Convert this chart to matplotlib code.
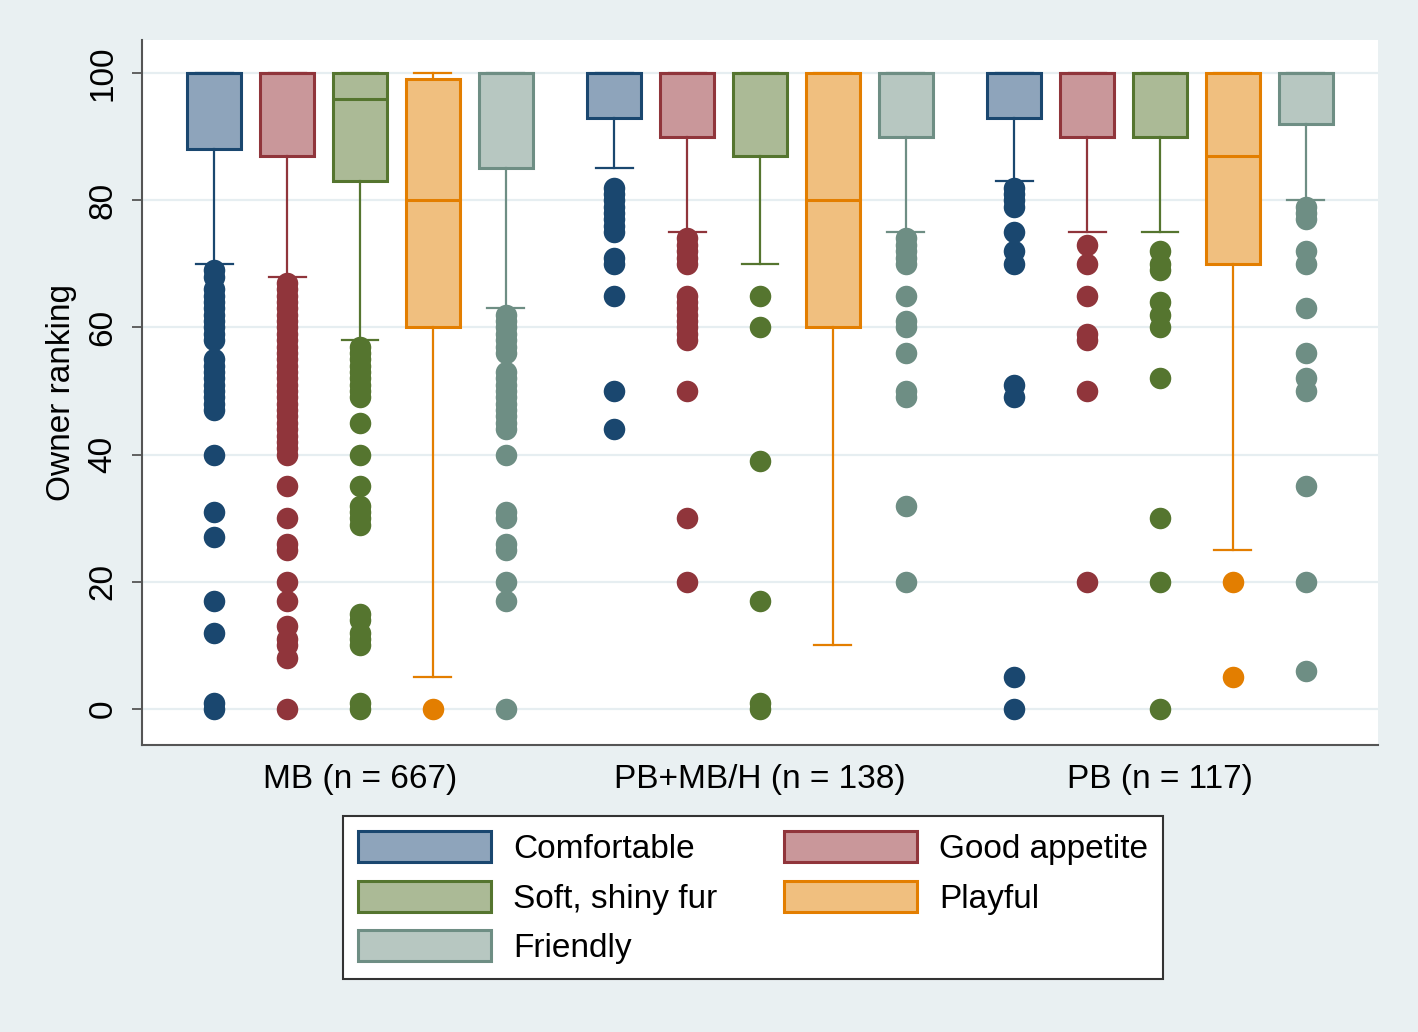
import matplotlib
matplotlib.use("Agg")
import matplotlib.pyplot as plt
from matplotlib.patches import Patch

plt.rcParams['font.family'] = ['Liberation Sans', 'DejaVu Sans']

groups = ["MB (n = 667)", "PB+MB/H (n = 138)", "PB (n = 117)"]
traits = ["Comfortable", "Good appetite", "Soft, shiny fur", "Playful", "Friendly"]

# box statistics, one row per trait, one column per group
q1 = [[88, 93, 93], [87, 90, 90], [83, 87, 90], [60, 60, 70], [85, 90, 92]]
median = [[100, 100, 100], [100, 100, 100], [96, 100, 100], [80, 80, 87], [100, 100, 100]]
q3 = [[100, 100, 100], [100, 100, 100], [100, 100, 100], [99, 100, 100], [100, 100, 100]]
whisker_lo = [[70, 85, 83], [68, 75, 75], [58, 70, 75], [5, 10, 25], [63, 75, 80]]
whisker_hi = [[100, 100, 100], [100, 100, 100], [100, 100, 100], [100, 100, 100], [100, 100, 100]]

outliers_comfortable = [
    [69, 68, 66, 65, 64, 63, 62, 61, 60, 59, 58, 55, 54, 53, 52, 51, 50, 49, 48, 47,
     40, 31, 27, 17, 12, 1, 0],
    [82, 81, 80, 79, 78, 77, 76, 75, 71, 70, 65, 50, 44],
    [82, 81, 80, 79, 75, 72, 70, 51, 49, 5, 0],
]
outliers_appetite = [
    [67, 66, 65, 64, 63, 62, 61, 60, 59, 58, 57, 56, 55, 54, 53, 52, 51, 50, 49, 48,
     47, 46, 45, 44, 43, 42, 41, 40, 35, 30, 26, 25, 20, 17, 13, 11, 10, 8, 0],
    [74, 73, 72, 71, 70, 65, 64, 63, 62, 61, 60, 59, 58, 50, 30, 20],
    [73, 70, 65, 59, 58, 50, 20],
]
outliers_fur = [
    [57, 56, 55, 54, 53, 52, 51, 50, 49, 45, 40, 35, 32, 31, 30, 29, 15, 14, 12, 11,
     10, 1, 0],
    [65, 60, 39, 17, 1, 0],
    [72, 70, 69, 64, 62, 60, 52, 30, 20, 0],
]
outliers_playful = [
    [0],
    [],
    [20, 5],
]
outliers_friendly = [
    [62, 61, 60, 59, 58, 57, 56, 53, 52, 51, 50, 49, 48, 47, 46, 45, 44, 40, 31, 30,
     26, 25, 20, 17, 0],
    [74, 73, 72, 71, 70, 65, 61, 60, 56, 50, 49, 32, 20],
    [79, 78, 77, 72, 70, 63, 56, 52, 50, 35, 20, 6],
]
outliers = [outliers_comfortable, outliers_appetite, outliers_fur,
            outliers_playful, outliers_friendly]

edge_colors = ['#1A476F', '#90353B', '#55752F', '#E37E00', '#6E8E84']
fill_colors = ['#8EA4BB', '#C9979A', '#ABBA96', '#F0BF7F', '#B7C7C1']

fig = plt.figure(figsize=(14.18, 10.32), dpi=100, facecolor='#E9F0F2')
ax = fig.add_axes([0.1001, 0.2781, 0.8717, 0.6831])
ax.set_facecolor('white')

offsets = [-0.364, -0.182, 0.0, 0.182, 0.364]
centers = [1, 2, 3]

for t in range(len(traits)):
    stats = []
    for g in range(len(groups)):
        stats.append(dict(med=median[t][g], q1=q1[t][g], q3=q3[t][g],
                          whislo=whisker_lo[t][g], whishi=whisker_hi[t][g],
                          fliers=outliers[t][g]))
    ec = edge_colors[t]
    ax.bxp(stats, positions=[c + offsets[t] for c in centers],
           widths=0.135, capwidths=0.092, patch_artist=True, manage_ticks=False,
           boxprops=dict(facecolor=fill_colors[t], edgecolor=ec, linewidth=2.2),
           medianprops=dict(color=ec, linewidth=2.2),
           whiskerprops=dict(color=ec, linewidth=1.6),
           capprops=dict(color=ec, linewidth=1.6),
           flierprops=dict(marker='o', markerfacecolor=ec, markeredgecolor=ec,
                           markeredgewidth=0, markersize=15.5),
           zorder=3)

ax.set_xlim(0.455, 3.545)
ax.set_ylim(-5.66, 105.2)
ax.set_yticks([0, 20, 40, 60, 80, 100])
ax.set_yticklabels(['0', '20', '40', '60', '80', '100'], rotation=90, va='center')
ax.set_xticks(centers)
ax.set_xticklabels(groups)
ax.tick_params(axis='y', length=7, width=1.3, color='#555555', pad=10, labelsize=24)
ax.tick_params(axis='x', length=0, pad=14, labelsize=24)
ax.yaxis.grid(True, color='#E6EEF1', linewidth=1.6, zorder=0)
ax.set_axisbelow(True)

for s in ['top', 'right']:
    ax.spines[s].set_visible(False)
for s in ['left', 'bottom']:
    ax.spines[s].set_color('#555555')
    ax.spines[s].set_linewidth(1.5)

ax.set_ylabel('Owner ranking', fontsize=24, va='center')
ax.yaxis.set_label_coords(-0.0647, 0.5)

order = [0, 2, 4, 1, 3]
handles = [Patch(facecolor=fill_colors[i], edgecolor=edge_colors[i], linewidth=2.2,
                 label=traits[i]) for i in order]
leg = fig.legend(handles=handles, ncol=2, loc='center', bbox_to_anchor=(0.531, 0.130),
                 fontsize=24, handlelength=4.0, handleheight=1.05, handletextpad=0.66,
                 columnspacing=2.0, labelspacing=0.47, borderpad=0.45,
                 fancybox=False, framealpha=1, edgecolor='#333333')
leg.get_frame().set_linewidth(1.5)

fig.savefig('out.png', dpi=100, facecolor=fig.get_facecolor())
